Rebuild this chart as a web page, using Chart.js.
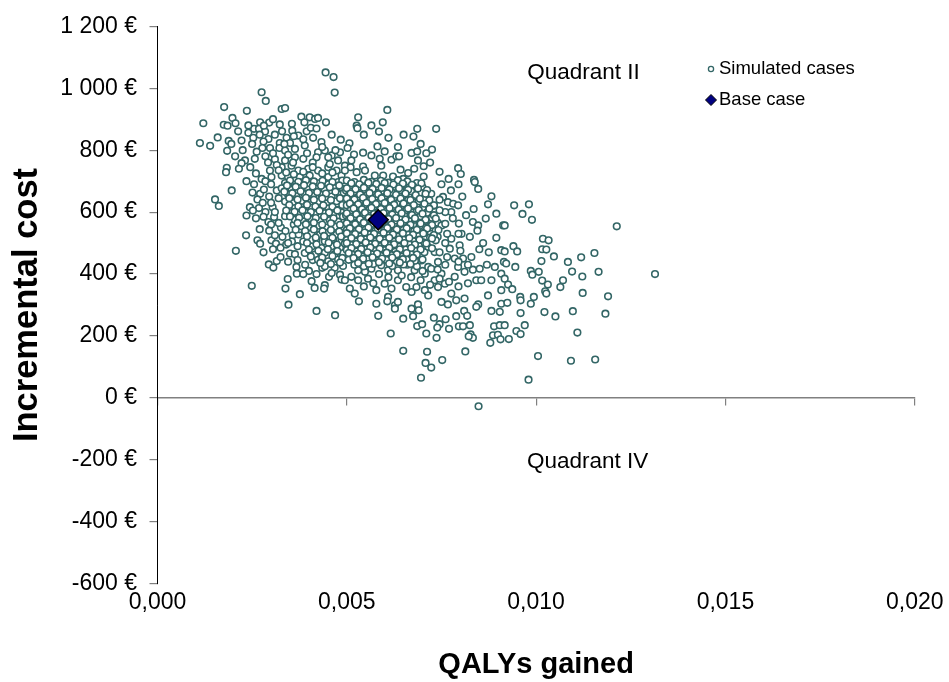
<!DOCTYPE html>
<html>
<head>
<meta charset="utf-8">
<script src="https://cdn.jsdelivr.net/npm/chart.js@4.4.0/dist/chart.umd.min.js"></script>
<style>
  body { margin: 0; background: #fff; }
  #wrap { width: 949px; height: 682px; }
</style>
</head>
<body>
<div id="wrap"><canvas id="chart" width="949" height="682"></canvas></div>
<script>
const xTickValues = [0, 0.005, 0.01, 0.015, 0.02]
const xTickLabels = ['0,000', '0,005', '0,010', '0,015', '0,020']
const yTickValues = [-600, -400, -200, 0, 200, 400, 600, 800, 1000, 1200]
const yTickLabels = ['-600 €', '-400 €', '-200 €', '0 €', '200 €', '400 €', '600 €', '800 €', '1 000 €', '1 200 €']

const seriesLabels = ['Simulated cases', 'Base case']
const quadrantLabels = ['Quadrant II', 'Quadrant IV']
const quadrantQaly = [0.01125, 0.01136]
const quadrantCost = [1051, -207]

// QALYs gained, incremental cost (€)
const baseCase = [[0.00583, 575]]

const simulatedCases = [
  [.00444,1051],[.00465,1036],[.00468,986],[.00275,987],[.00286,959],[.00176,939],[.00236,927],[.00328,933],[.00337,936],[.00121,887],
  [.00198,904],[.00175,882],[.00185,879],[.00206,887],[.00380,908],[.00402,906],[.00416,901],[.00424,904],[.00388,890],[.00271,890],
  [.00295,889],[.00323,883],[.00213,861],[.00240,856],[.00255,869],[.00268,869],[.00284,860],[.00281,879],[.00329,861],[.00356,863],
  [.00372,847],[.00394,861],[.00405,872],[.00159,841],[.00112,823],[.00139,814],[.00188,830],[.00222,831],[.00253,840],[.00293,836],
  [.00280,828],[.00341,840],[.00323,823],[.00350,823],[.00389,815],[.00411,840],[.00433,826],[.00484,834],[.00184,798],[.00277,807],
  [.00297,807],[.00322,807],[.00337,799],[.00363,804],[.00424,793],[.00442,799],[.00460,783],[.00482,793],[.00231,767],[.00257,772],
  [.00222,758],[.00310,771],[.00337,767],[.00363,777],[.00385,772],[.00420,777],[.00451,777],[.00477,767],[.00183,743],[.00181,729],
  [.00297,734],[.00328,745],[.00354,750],[.00372,734],[.00398,740],[.00424,734],[.00451,745],[.00473,734],[.00275,707],[.00301,713],
  [.00328,718],[.00345,713],[.00376,713],[.00402,718],[.00451,713],[.00486,718],
  [.00262,795],[.00285,780],[.00305,790],[.00315,752],[.00345,785],[.00358,760],[.00395,790],[.00410,760],[.00435,810],[.00455,755],
  [.00470,800],[.00245,745],[.00260,725],[.00292,760],[.00320,735],[.00340,728],[.00360,722],[.00385,730],[.00410,745],[.00435,725],
  [.00462,728],[.00495,750],[.00510,745],[.00250,820],[.00270,850],[.00310,850],[.00335,820],[.00360,845],[.00385,835],[.00460,850],
  [.00420,870],[.00225,800],[.00205,780],[.00240,880],[.00305,900],[.00355,885],[.00445,890],[.00195,820],[.00215,740],[.00235,700],
  [.00607,930],[.00530,906],[.00526,879],[.00528,871],[.00686,869],[.00676,844],[.00736,869],[.00725,802],[.00507,822],[.00502,807],
  [.00581,812],[.00600,796],[.00519,786],[.00543,792],[.00565,783],[.00587,772],[.00618,769],[.00631,780],[.00638,780],[.00671,791],
  [.00686,796],[.00688,767],[.00703,748],[.00678,740],[.00662,726],[.00642,737],[.00591,750],[.00543,747],[.00512,767],[.00495,734],
  [.00526,729],[.00548,734],[.00574,718],[.00596,718],[.00622,715],[.00649,707],[.00703,715],[.00794,742],[.00801,723],[.00769,707],
  [.00836,704],[.00745,730],[.00720,760],[.00710,790],[.00695,820],[.00635,810],[.00610,840],[.00585,860],[.00565,880],[.00545,850],
  [.00595,890],[.00650,850],[.00775,670],[.00750,690],[.00795,690],
  [.00196,670],[.00152,641],[.00162,620],[.00251,663],[.00271,659],[.00281,673],[.00264,641],[.00244,616],[.00268,613],[.00304,616],
  [.00235,589],[.00293,568],[.00308,584],[.00337,587],[.00234,525],[.00264,509],[.00271,498],[.00301,509],[.00313,498],[.00207,475],
  [.00326,550],[.00338,539],[.00357,525],[.00373,528],[.00294,431],[.00306,421],[.00315,442],[.00350,466],[.00363,464],[.00367,423],
  [.00368,401],[.00344,384],[.00407,377],[.00338,353],[.00376,335],[.00249,362],[.00442,364],[.00440,353],[.00453,391],
  [.00255,690],[.00285,700],[.00300,690],[.00315,670],[.00295,650],[.00278,630],[.00300,630],[.00320,645],[.00252,605],[.00285,600],
  [.00310,600],[.00260,580],[.00280,585],[.00300,560],[.00320,565],[.00270,545],[.00295,540],[.00310,525],[.00330,520],[.00280,470],
  [.00305,480],[.00325,485],[.00340,495],[.00355,505],[.00370,490],[.00385,505],[.00395,525],[.00375,545],[.00360,560],[.00345,500],
  [.00325,455],[.00345,440],[.00370,445],[.00390,430],[.00410,445],[.00400,410],[.00420,400],[.00435,420],[.00385,400],[.00415,355],
  [.00337,694],[.00363,689],[.00380,696],[.00402,688],[.00424,693],[.00451,690],[.00477,697],
  [.00328,677],[.00354,672],[.00376,679],[.00398,673],[.00420,676],[.00442,671],[.00468,678],[.00490,674],
  [.00345,656],[.00367,651],[.00389,658],[.00411,652],[.00433,655],[.00460,650],[.00482,657],
  [.00337,634],[.00358,629],[.00380,636],[.00402,630],[.00424,633],[.00446,628],[.00473,635],[.00493,631],
  [.00363,613],[.00385,608],[.00407,614],[.00429,609],[.00451,612],[.00477,607],
  [.00350,597],[.00372,592],[.00394,598],[.00416,593],[.00442,596],[.00464,591],[.00486,599],
  [.00363,575],[.00385,570],[.00407,577],[.00429,571],[.00455,574],[.00477,569],
  [.00380,554],[.00402,549],[.00424,556],[.00446,550],[.00468,553],[.00490,548],
  [.00407,532],[.00429,527],[.00451,534],[.00473,528],[.00493,531],
  [.00420,511],[.00442,506],[.00464,512],[.00486,507],
  [.00407,489],[.00433,484],[.00460,490],[.00482,485],
  [.00389,468],[.00416,463],[.00442,469],[.00468,464],[.00490,467],
  [.00424,446],[.00451,441],[.00477,447],[.00442,425],[.00468,420],[.00490,426],[.00460,403],[.00482,398],[.00486,382],
  [.00350,702],[.00372,698],[.00392,703],[.00413,699],[.00436,701],[.00462,697],[.00488,702],
  [.00342,686],[.00365,682],[.00387,687],[.00410,683],[.00432,685],[.00455,680],[.00480,686],
  [.00335,666],[.00356,661],[.00378,667],[.00400,662],[.00422,665],[.00445,660],[.00470,666],[.00492,662],
  [.00348,645],[.00370,641],[.00392,646],[.00413,640],[.00435,644],[.00458,639],[.00482,645],
  [.00348,623],[.00372,619],[.00395,624],[.00417,618],[.00438,622],[.00462,617],[.00488,623],
  [.00340,605],[.00362,601],[.00383,606],[.00405,600],[.00428,604],[.00453,599],[.00475,605],
  [.00350,586],[.00374,582],[.00396,587],[.00418,581],[.00440,585],[.00465,580],[.00490,586],
  [.00370,565],[.00392,561],[.00413,566],[.00435,560],[.00458,564],[.00482,559],
  [.00365,543],[.00390,539],[.00413,544],[.00436,538],[.00458,542],[.00480,537],
  [.00395,522],[.00418,518],[.00440,523],[.00462,517],[.00485,521],
  [.00395,500],[.00420,496],[.00452,501],[.00474,495],[.00495,499],
  [.00400,479],[.00425,475],[.00450,480],[.00475,474],
  [.00405,457],[.00435,453],[.00462,458],[.00488,452],[.00430,436],[.00458,432],[.00482,437],
  [.00847,675],[.00838,697],[.00882,651],[.00873,625],[.00895,595],[.00833,568],[.00847,557],[.00867,579],[.00913,557],[.00895,517],
  [.00908,477],[.00915,439],[.00891,423],[.00908,401],[.00882,380],[.00908,348],[.00873,331],[.00829,455],[.00842,380],[.00851,417],
  [.00833,414],[.00855,380],[.00723,659],[.00754,649],[.00767,632],[.00781,627],[.00794,622],[.00776,600],[.00796,563],[.00803,530],
  [.00776,514],[.00798,493],[.00772,482],[.00785,450],[.00807,450],[.00794,423],[.00811,407],[.00785,391],[.00750,401],[.00759,369],
  [.00741,358],[.00732,380],[.00715,487],[.00732,471],[.00741,439],[.00715,423],[.00697,444],[.00600,369],[.00578,348],[.00618,353],
  [.00635,380],[.00657,358],[.00671,342],[.00706,348],[.00684,358],[.00609,326],[.00715,331],[.00776,337],[.00811,321],[.00521,337],
  [.00508,353],[.00530,412],[.00495,380],[.00512,391],[.00548,407],[.00556,385],[.00565,417],[.00591,428],[.00609,412],[.00635,412],
  [.00679,412],[.00706,401],[.00723,417],
  [.00745,640],[.00760,600],[.00755,560],[.00780,580],[.00740,520],[.00760,500],[.00795,530],[.00745,470],[.00765,455],[.00800,475],
  [.00660,430],[.00685,425],[.00700,410],[.00740,415],[.00760,430],[.00795,440],[.00820,430],[.00645,395],[.00670,390],[.00695,380],
  [.00720,365],[.00745,385],[.00770,375],[.00795,360],[.00820,370],[.00610,390],[.00585,400],[.00570,370],[.00545,360],[.00530,380],
  [.00860,500],[.00875,470],[.00850,480],[.00870,430],[.00825,520],[.00845,540],[.00815,590],[.00835,610],[.00805,650],
  [.00500,702],[.00520,697],[.00545,704],[.00565,698],[.00590,701],[.00610,695],[.00635,703],[.00660,699],[.00685,694],
  [.00510,687],[.00535,682],[.00555,689],[.00580,683],[.00600,686],[.00625,681],[.00650,688],[.00675,684],[.00700,680],
  [.00498,670],[.00522,665],[.00548,672],[.00570,666],[.00595,669],[.00618,664],[.00642,671],[.00670,667],[.00695,662],
  [.00505,654],[.00530,649],[.00555,656],[.00578,650],[.00605,653],[.00630,648],[.00655,655],[.00680,651],[.00705,646],
  [.00515,638],[.00540,633],[.00562,640],[.00588,634],[.00612,637],[.00638,632],[.00662,639],[.00690,635],[.00715,630],
  [.00500,622],[.00525,617],[.00550,624],[.00572,618],[.00598,621],[.00622,616],[.00648,623],[.00675,619],[.00700,614],[.00730,621],
  [.00510,606],[.00535,601],[.00560,608],[.00585,602],[.00608,605],[.00632,600],[.00658,607],[.00685,603],[.00712,598],
  [.00498,590],[.00522,585],[.00545,592],[.00570,586],[.00615,589],[.00640,584],[.00668,591],[.00695,587],[.00725,582],
  [.00505,574],[.00530,569],[.00555,576],[.00605,570],[.00628,573],[.00652,568],[.00680,575],[.00708,571],[.00740,566],
  [.00515,558],[.00540,553],[.00565,560],[.00590,554],[.00615,557],[.00640,552],[.00665,559],[.00692,555],[.00720,550],[.00750,557],
  [.00500,542],[.00525,537],[.00550,544],[.00575,538],[.00600,541],[.00625,536],[.00650,543],[.00678,539],[.00705,534],[.00735,541],
  [.00510,526],[.00535,521],[.00560,528],[.00585,522],[.00610,525],[.00635,520],[.00662,527],[.00690,523],[.00720,518],
  [.00500,510],[.00525,505],[.00550,512],[.00575,506],[.00600,509],[.00625,504],[.00650,511],[.00675,507],[.00702,502],[.00735,509],
  [.00512,494],[.00538,489],[.00562,496],[.00588,490],[.00612,493],[.00638,488],[.00665,495],[.00690,491],
  [.00500,478],[.00525,473],[.00550,480],[.00575,474],[.00600,477],[.00628,472],[.00655,479],[.00682,475],[.00705,470],
  [.00515,462],[.00540,457],[.00565,464],[.00590,458],[.00618,461],[.00645,456],[.00670,463],
  [.00505,446],[.00530,441],[.00555,448],[.00580,442],[.00605,445],[.00632,440],[.00658,447],[.00680,443],
  [.00520,430],[.00545,425],[.00570,432],[.00620,426],[.00650,431],
  [.00512,693],[.00533,690],[.00557,695],[.00578,691],[.00600,694],[.00623,689],[.00648,692],[.00672,688],[.00697,693],
  [.00500,677],[.00523,674],[.00545,679],[.00568,675],[.00592,678],[.00613,673],[.00638,677],[.00662,672],[.00688,676],[.00712,671],
  [.00510,660],[.00535,657],[.00560,662],[.00583,658],[.00607,661],[.00630,656],[.00655,660],[.00682,655],[.00708,659],
  [.00500,644],[.00520,641],[.00543,646],[.00567,642],[.00592,645],[.00617,640],[.00642,644],[.00668,639],[.00693,643],[.00718,638],
  [.00508,628],[.00530,625],[.00552,630],[.00577,626],[.00600,629],[.00625,624],[.00650,628],[.00677,623],[.00705,627],[.00730,622],
  [.00518,612],[.00540,609],[.00565,614],[.00590,610],[.00613,613],[.00637,608],[.00662,612],[.00690,607],[.00718,611],[.00745,606],
  [.00500,596],[.00525,593],[.00548,598],[.00572,594],[.00597,597],[.00620,592],[.00645,596],[.00672,591],[.00700,595],[.00730,590],
  [.00510,580],[.00535,577],[.00558,582],[.00610,578],[.00630,581],[.00655,576],[.00680,580],[.00708,575],[.00735,579],
  [.00500,564],[.00522,561],[.00545,566],[.00570,562],[.00595,565],[.00618,560],[.00642,564],[.00668,559],[.00695,563],[.00725,558],[.00760,562],
  [.00508,548],[.00532,545],[.00557,550],[.00582,546],[.00607,549],[.00632,544],[.00658,548],[.00685,543],[.00712,547],[.00742,542],
  [.00500,532],[.00522,529],[.00547,534],[.00572,530],[.00597,533],[.00622,528],[.00648,532],[.00675,527],[.00702,531],[.00730,526],[.00765,530],
  [.00512,516],[.00537,513],[.00562,518],[.00587,514],[.00612,517],[.00638,512],[.00665,516],[.00692,511],[.00725,515],
  [.00500,500],[.00525,497],[.00550,502],[.00575,498],[.00600,501],[.00625,496],[.00652,500],[.00680,495],[.00710,499],
  [.00512,484],[.00538,481],[.00562,486],[.00587,482],[.00612,485],[.00640,480],[.00670,484],[.00695,479],[.00725,483],
  [.00505,468],[.00530,465],[.00555,470],[.00580,466],[.00605,469],[.00632,464],[.00658,468],[.00685,463],
  [.00518,452],[.00543,449],[.00568,454],[.00593,450],[.00620,453],[.00648,448],[.00675,452],[.00700,447],
  [.00530,436],[.00558,433],[.00585,438],[.00612,434],[.00640,437],[.00668,432],
  [.00942,622],[.00981,625],[.00964,594],[.00989,575],[.00917,557],[.01213,554],[.01018,514],[.01033,509],[.00940,490],[.00950,473],
  [.00917,473],[.01016,480],[.01027,479],[.01047,457],[.01014,442],[.01084,439],[.01119,454],[.01154,468],[.00921,434],[.00945,423],
  [.00986,410],[.00990,398],[.01007,407],[.01095,408],[.01165,407],[.01314,400],[.00917,385],[.00926,366],[.00937,351],[.01016,379],
  [.01031,366],[.01071,380],[.01064,358],[.01122,392],[.01024,344],[.01027,337],[.00958,326],[.00994,326],[.01123,339],[.01190,328],
  [.00346,301],[.00420,281],[.00469,267],
  [.00532,312],[.00578,304],[.00607,312],[.00627,299],[.00635,310],[.00627,288],[.00583,265],[.00649,256],[.00675,264],[.00671,288],
  [.00688,302],[.00690,283],[.00686,232],[.00699,238],[.00710,208],[.00730,259],[.00745,238],[.00739,227],[.00737,194],[.00761,254],
  [.00770,223],[.00750,310],[.00767,302],[.00789,315],[.00789,264],[.00810,281],[.00818,265],[.00796,231],[.00807,231],[.00825,235],
  [.00827,205],[.00833,194],[.00822,199],[.00847,302],[.00842,294],[.00882,281],[.00904,278],[.00908,304],[.00889,231],[.00904,235],
  [.00886,202],[.00899,204],[.00906,189],[.00879,178],[.00616,208],[.00649,152],[.00712,149],[.00813,150],[.00708,113],[.00723,98],
  [.00752,122],[.00696,65],[.00848,-27],
  [.00924,307],[.00959,315],[.00986,304],[.00959,274],[.01022,277],[.01051,263],[.01097,280],[.01183,272],[.00917,235],[.00948,216],
  [.00959,206],[.00970,235],[.00928,190],[.01109,211],[.01005,135],[.01092,120],[.01156,124],[.00980,59]
]

const toPoints = (pairs) => pairs.map(([x, y]) => ({ x, y }))

const fontFamily = '"Liberation Sans", Arial, Helvetica, sans-serif'

const simStyle = { pointStyle: 'circle', radius: 3.3, borderWidth: 1.6, borderColor: '#336666', backgroundColor: '#ffffff' }
const baseStyle = { pointStyle: 'rectRot', radius: 10, borderWidth: 1.5, borderColor: '#000000', backgroundColor: '#000080' }

const setTicks = (values) => (scale) => {
    scale.ticks = values.map(v => ({ value: v }))
}

const overlayPlugin = {
    id: 'overlay',
    afterDatasetsDraw(chart) {
        const { ctx, scales: { x, y } } = chart
        ctx.save()
        ctx.fillStyle = '#000'
        ctx.textBaseline = 'middle'

        // quadrant captions
        ctx.font = `22.5px ${fontFamily}`
        ctx.textAlign = 'center'
        quadrantLabels.forEach((label, i) => {
            ctx.fillText(label, x.getPixelForValue(quadrantQaly[i]), y.getPixelForValue(quadrantCost[i]))
        })

        // legend, top right inside the plot
        const legendX = 711
        const legendY = [69, 100]
        const symbols = [
            { ...simStyle, radius: 2.6, borderWidth: 1.3 },
            { ...baseStyle, radius: 5.5, borderWidth: 1 }
        ]
        ctx.font = `18.5px ${fontFamily}`
        ctx.textAlign = 'left'
        seriesLabels.forEach((label, i) => {
            ctx.save()
            ctx.strokeStyle = symbols[i].borderColor
            ctx.fillStyle = symbols[i].backgroundColor
            ctx.lineWidth = symbols[i].borderWidth
            Chart.helpers.drawPoint(ctx, symbols[i], legendX, legendY[i])
            ctx.restore()
            ctx.fillText(label, legendX + 8, legendY[i])
        })
        ctx.restore()
    }
}

new Chart(document.getElementById('chart'), {
    type: 'scatter',
    data: {
        datasets: [
            {
                label: seriesLabels[1],
                data: toPoints(baseCase),
                pointStyle: baseStyle.pointStyle,
                pointRadius: baseStyle.radius,
                pointBorderWidth: baseStyle.borderWidth,
                pointBorderColor: baseStyle.borderColor,
                pointBackgroundColor: baseStyle.backgroundColor,
                xAxisID: 'x', yAxisID: 'y'
            },
            {
                label: seriesLabels[0],
                data: toPoints(simulatedCases),
                pointStyle: simStyle.pointStyle,
                pointRadius: simStyle.radius,
                pointBorderWidth: simStyle.borderWidth,
                pointBorderColor: simStyle.borderColor,
                pointBackgroundColor: simStyle.backgroundColor,
                xAxisID: 'x', yAxisID: 'y'
            }
        ]
    },
    options: {
        responsive: false,
        animation: false,
        layout: { padding: { left: 0, right: 33.5, top: 25.7, bottom: 0 } },
        plugins: {
            legend: { display: false },
            tooltip: { enabled: false }
        },
        scales: {
            x: {
                type: 'linear',
                position: 'bottom',
                min: 0,
                max: 0.02,
                afterBuildTicks: setTicks(xTickValues),
                afterFit: (scale) => { scale.height = 98.3 },
                border: { display: false },
                grid: { display: false, drawTicks: false },
                ticks: {
                    padding: 5.5,
                    color: '#000',
                    maxRotation: 0,
                    autoSkip: false,
                    font: { family: fontFamily, size: 23 },
                    callback: (v, i) => xTickLabels[i]
                },
                title: {
                    display: true,
                    text: 'QALYs gained',
                    color: '#000',
                    font: { family: fontFamily, size: 29, weight: 'bold' },
                    padding: { top: 0, bottom: 0 }
                }
            },
            xZero: {
                type: 'linear',
                axis: 'x',
                position: { y: 0 },
                min: 0,
                max: 0.02,
                afterBuildTicks: setTicks(xTickValues),
                border: { display: true, color: '#808080', width: 1.5 },
                grid: { drawOnChartArea: false, drawTicks: true, color: '#808080', tickLength: 7, lineWidth: 1.2 },
                ticks: { display: false }
            },
            y: {
                type: 'linear',
                position: 'left',
                min: -600,
                max: 1200,
                afterBuildTicks: setTicks(yTickValues),
                afterFit: (scale) => { scale.width = 157.5 },
                border: { display: true, color: '#000', width: 1 },
                grid: { drawOnChartArea: false, color: '#808080', tickLength: 8, lineWidth: 1.2 },
                ticks: {
                    padding: 12.5,
                    color: '#000',
                    font: { family: fontFamily, size: 23 },
                    callback: (v, i) => yTickLabels[i]
                },
                title: {
                    display: true,
                    text: 'Incremental cost',
                    color: '#000',
                    font: { family: fontFamily, size: 34.5, weight: 'bold' },
                    padding: { top: 7, bottom: 0 }
                }
            }
        }
    },
    plugins: [overlayPlugin]
})
</script>
</body>
</html>
